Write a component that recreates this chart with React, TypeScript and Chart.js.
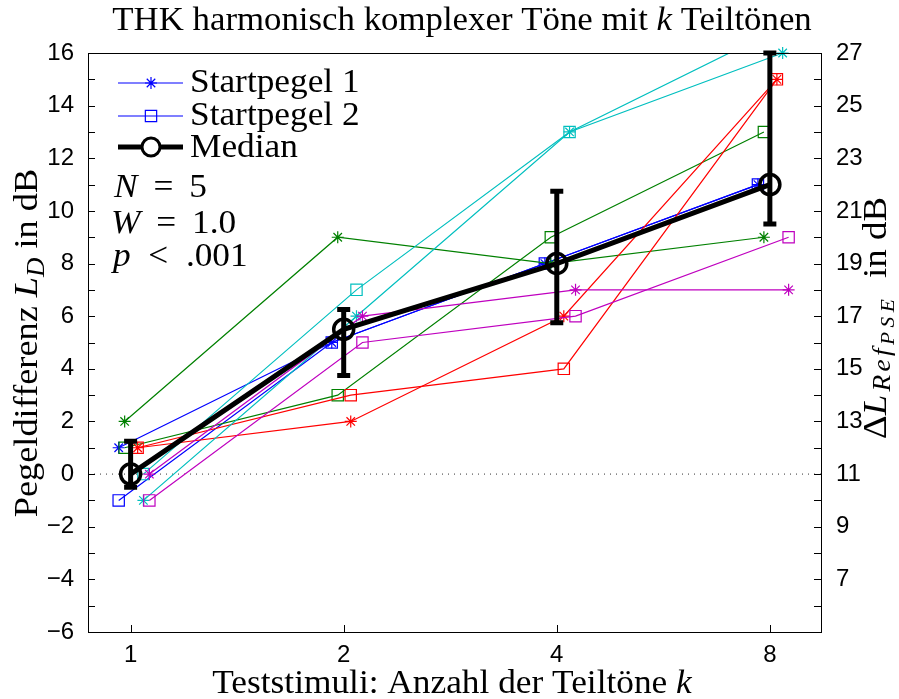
import React, { useEffect, useRef } from 'react';
import { Chart, registerables } from 'chart.js';
import { drawPoint } from 'chart.js/helpers';

Chart.register(...registerables);

// Test stimuli: number of partials k
const categories = ['1', '2', '4', '8'];
const categoryPositions = [1, 2, 3, 4];

// Individual subjects, start level 1 (asterisk) and start level 2 (square), in dB
const blueStart1 = [1, 5, 8, 11];
const blueStart2 = [-1, 5, 8, 11];
const greenStart1 = [2, 9, 8, 9];
const greenStart2 = [1, 3, 9, 13];
const redStart1 = [1, 2, 6, 15];
const redStart2 = [1, 3, 4, 15];
const cyanStart1 = [-1, 6, 13, 16];
const cyanStart2 = [0, 7, 13, 17];
const magentaStart1 = [0, 6, 7, 7];
const magentaStart2 = [-1, 5, 6, 9];

// Median over subjects with its spread
const medianValues = [0, 5.5, 8, 11];
const medianLower = [-0.5, 3.75, 5.75, 9.5];
const medianUpper = [1.25, 6.25, 10.75, 16];

// Axis labelling
const leftTickLabels = [-6, -4, -2, 0, 2, 4, 6, 8, 10, 12, 14, 16];
const rightTickLabels = [7, 9, 11, 13, 15, 17, 19, 21, 23, 25, 27];
const rightAxisShift = 11; // right axis = left axis + 11 dB

// Statistics box
const statN = '5';
const statW = '1.0';
const statP = '.001';

const Y_MIN = -6;
const Y_MAX = 16;

// Horizontal spread of the subjects around each category
const subjectOffsets = [-0.056, -0.028, 0.033, 0.06, 0.088];

const subjects = [
  { color: '#0000ff', start1: blueStart1, start2: blueStart2 },
  { color: '#008000', start1: greenStart1, start2: greenStart2 },
  { color: '#ff0000', start1: redStart1, start2: redStart2 },
  { color: '#00bfbf', start1: cyanStart1, start2: cyanStart2 },
  { color: '#bf00bf', start1: magentaStart1, start2: magentaStart2 },
];

const SERIF = '"Liberation Serif", "Times New Roman", serif';
const SANS = '"Liberation Sans", Arial, Helvetica, sans-serif';
const TEXT_SIZE = 33;
const TEXT_STRETCH = 1.07;

type Run = { text: string; italic?: boolean; level?: 0 | 1 | 2; gap?: number; dy?: number };

function runFont(r: Run, size: number) {
  const s = size * (r.level === 2 ? 0.58 : r.level === 1 ? 0.74 : 1);
  return `${r.italic ? 'italic ' : ''}${s}px ${SERIF}`;
}

function runShift(r: Run, size: number) {
  if (r.dy !== undefined) return r.dy;
  return r.level === 2 ? size * 0.36 : r.level === 1 ? size * 0.2 : 0;
}

// Draws a sequence of text runs (roman / italic / sub- and sub-subscripts)
function drawRuns(
  ctx: CanvasRenderingContext2D,
  runs: Run[],
  x: number,
  y: number,
  size: number,
  align: 'left' | 'center',
  stretch = TEXT_STRETCH
) {
  ctx.save();
  ctx.textBaseline = 'alphabetic';
  ctx.textAlign = 'left';
  ctx.fillStyle = '#000';
  // each run is split into characters so that a per-run gap can be applied
  const pieces: { ch: string; font: string; w: number; shift: number }[] = [];
  runs.forEach((r) => {
    const font = runFont(r, size);
    ctx.font = font;
    const chars = r.gap ? Array.from(r.text) : [r.text];
    chars.forEach((ch) => {
      pieces.push({ ch, font, w: (ctx.measureText(ch).width + (r.gap || 0)) * stretch, shift: runShift(r, size) });
    });
  });
  const total = pieces.reduce((a, p) => a + p.w, 0);
  let cx = align === 'center' ? x - total / 2 : x;
  pieces.forEach((p) => {
    ctx.save();
    ctx.font = p.font;
    ctx.translate(cx, y + p.shift);
    ctx.scale(stretch, 1);
    ctx.fillText(p.ch, 0, 0);
    ctx.restore();
    cx += p.w;
  });
  ctx.restore();
}

function fmtTick(v: number) {
  return v < 0 ? '\u2212' + Math.abs(v) : String(v);
}

function seriesPoints(values: number[], offset: number) {
  return values.map((v, i) => ({ x: categoryPositions[i] + offset, y: v }));
}

const decorations = {
  id: 'decorations',
  beforeDatasetsDraw(chart: any) {
    const { ctx, chartArea: a, scales } = chart;
    const y0 = scales.y.getPixelForValue(0);
    ctx.save();
    ctx.strokeStyle = '#333';
    ctx.lineWidth = 1;
    ctx.setLineDash([1, 5]);
    ctx.beginPath();
    ctx.moveTo(a.left, y0);
    ctx.lineTo(a.right, y0);
    ctx.stroke();
    ctx.restore();
  },
  afterDatasetsDraw(chart: any) {
    const { ctx, chartArea: a, scales } = chart;
    const xs = scales.x;
    const ys = scales.y;
    const ys2 = scales.y2;

    // median spread
    ctx.save();
    ctx.strokeStyle = '#000';
    ctx.lineWidth = 5;
    ctx.lineCap = 'butt';
    categoryPositions.forEach((p, i) => {
      const x = xs.getPixelForValue(p);
      const lo = ys.getPixelForValue(medianLower[i]);
      const hi = ys.getPixelForValue(medianUpper[i]);
      ctx.beginPath();
      ctx.moveTo(x, lo);
      ctx.lineTo(x, hi);
      ctx.moveTo(x - 6.5, lo);
      ctx.lineTo(x + 6.5, lo);
      ctx.moveTo(x - 6.5, hi);
      ctx.lineTo(x + 6.5, hi);
      ctx.stroke();
    });
    ctx.restore();

    // frame and inward ticks
    ctx.save();
    ctx.strokeStyle = '#000';
    ctx.lineWidth = 1;
    ctx.strokeRect(a.left + 0.5, a.top + 0.5, a.right - a.left, a.bottom - a.top);
    ctx.beginPath();
    ys.ticks.forEach((t: any) => {
      const y = Math.round(ys.getPixelForValue(t.value)) + 0.5;
      ctx.moveTo(a.left, y);
      ctx.lineTo(a.left + 7, y);
    });
    ys2.ticks.forEach((t: any) => {
      const y = Math.round(ys2.getPixelForValue(t.value)) + 0.5;
      ctx.moveTo(a.right, y);
      ctx.lineTo(a.right - 7, y);
    });
    categoryPositions.forEach((p) => {
      const x = Math.round(xs.getPixelForValue(p)) + 0.5;
      ctx.moveTo(x, a.bottom);
      ctx.lineTo(x, a.bottom - 7);
    });
    ctx.stroke();
    ctx.restore();

    // legend
    const lx0 = 118;
    const lx1 = 183;
    const mx = 151;
    const rows = [83, 116, 147];
    ctx.save();
    ctx.fillStyle = 'rgba(0,0,0,0)';
    ctx.strokeStyle = '#0000ff';
    ctx.lineWidth = 1.2;
    [0, 1].forEach((k) => {
      ctx.beginPath();
      ctx.moveTo(lx0, rows[k]);
      ctx.lineTo(lx1, rows[k]);
      ctx.stroke();
      drawPoint(ctx, { pointStyle: k === 0 ? 'star' : 'rect', radius: k === 0 ? 6 : 8, rotation: 0, borderWidth: 1.2 } as any, mx, rows[k]);
    });
    ctx.strokeStyle = '#000';
    ctx.lineWidth = 5;
    ctx.beginPath();
    ctx.moveTo(lx0, rows[2]);
    ctx.lineTo(mx - 9, rows[2]);
    ctx.moveTo(mx + 9, rows[2]);
    ctx.lineTo(lx1, rows[2]);
    ctx.stroke();
    ctx.lineWidth = 3;
    ctx.beginPath();
    ctx.arc(mx, rows[2], 9, 0, Math.PI * 2);
    ctx.stroke();
    ctx.restore();

    drawRuns(ctx, [{ text: 'Startpegel 1' }], 190, 92, TEXT_SIZE, 'left');
    drawRuns(ctx, [{ text: 'Startpegel 2' }], 190, 125, TEXT_SIZE, 'left');
    drawRuns(ctx, [{ text: 'Median' }], 190, 157, TEXT_SIZE, 'left');

    // statistics
    drawRuns(ctx, [{ text: 'N', italic: true }, { text: ' \u2009=\u2009 ' + statN }], 114, 197, TEXT_SIZE, 'left');
    drawRuns(ctx, [{ text: 'W', italic: true }, { text: ' \u2009=\u2009 ' + statW }], 111, 233, TEXT_SIZE, 'left');
    drawRuns(ctx, [{ text: 'p', italic: true }, { text: '  <  ' + statP }], 113, 266, TEXT_SIZE, 'left');
  },
  afterDraw(chart: any) {
    const { ctx } = chart;
    // title
    drawRuns(
      ctx,
      [
        { text: 'THK harmonisch komplexer T\u00f6ne mit ' },
        { text: 'k', italic: true },
        { text: ' Teilt\u00f6nen' },
      ],
      462,
      30,
      TEXT_SIZE,
      'center',
      1.055
    );
    // x axis title
    drawRuns(
      ctx,
      [{ text: 'Teststimuli: Anzahl der Teilt\u00f6ne ' }, { text: 'k', italic: true }],
      452,
      693,
      TEXT_SIZE,
      'center'
    );
    // left axis title
    ctx.save();
    ctx.translate(37, 343);
    ctx.rotate(-Math.PI / 2);
    drawRuns(
      ctx,
      [
        { text: 'Pegeldifferenz ' },
        { text: 'L', italic: true },
        { text: 'D', italic: true, level: 1 },
        { text: ' in dB' },
      ],
      0,
      0,
      TEXT_SIZE,
      'center',
      1.1
    );
    ctx.restore();
    // right axis title
    ctx.save();
    ctx.translate(886, 318);
    ctx.rotate(-Math.PI / 2);
    drawRuns(
      ctx,
      [
        { text: '\u0394' },
        { text: 'L', italic: true, gap: 3 },
        { text: 'Ref', italic: true, level: 1, gap: 3, dy: 4 },
        { text: 'PSE', italic: true, level: 2, gap: 4, dy: 8 },
        { text: '\u2009 in dB' },
      ],
      0,
      0,
      TEXT_SIZE,
      'center',
      1.12
    );
    ctx.restore();
  },
};

function buildDatasets() {
  const sets: any[] = [];
  sets.push({
    label: 'Median',
    data: seriesPoints(medianValues, 0),
    borderColor: '#000',
    backgroundColor: 'rgba(0,0,0,0)',
    borderWidth: 5,
    pointStyle: 'circle',
    pointRadius: 10,
    pointBorderWidth: 3.5,
    pointBorderColor: '#000',
    pointBackgroundColor: 'rgba(0,0,0,0)',
    order: 0,
    clip: 12,
  });
  subjects.forEach((s, i) => {
    [s.start1, s.start2].forEach((vals, k) => {
      const exceeds = Math.max(...vals) > Y_MAX || Math.min(...vals) < Y_MIN;
      sets.push({
        label: `S${i + 1}-${k + 1}`,
        data: seriesPoints(vals, subjectOffsets[i]),
        borderColor: s.color,
        backgroundColor: 'rgba(0,0,0,0)',
        borderWidth: 1.2,
        pointStyle: k === 0 ? 'star' : 'rect',
        pointRadius: k === 0 ? 6 : 8,
        pointBorderWidth: 1.2,
        pointBorderColor: s.color,
        pointBackgroundColor: 'rgba(0,0,0,0)',
        order: 20 - i * 2 - k,
        clip: exceeds ? 0 : 12,
      });
    });
  });
  return sets;
}

export default function App() {
  const canvasRef = useRef<HTMLCanvasElement>(null);

  useEffect(() => {
    if (!canvasRef.current) return;
    const chart = new Chart(canvasRef.current, {
      type: 'line',
      data: { datasets: buildDatasets() },
      options: {
        responsive: false,
        animation: false,
        devicePixelRatio: 1,
        events: [],
        layout: { padding: { top: 53, left: 0, right: 0, bottom: 0 } },
        plugins: {
          legend: { display: false },
          tooltip: { enabled: false },
          title: { display: false },
        },
        scales: {
          x: {
            type: 'linear',
            min: 0.8,
            max: 4.24,
            grid: { display: false },
            border: { display: false },
            afterBuildTicks: (scale: any) => {
              scale.ticks = categoryPositions.map((v) => ({ value: v }));
            },
            afterFit: (scale: any) => {
              scale.height = 67;
            },
            ticks: {
              autoSkip: false,
              maxRotation: 0,
              padding: 1,
              color: '#000',
              font: { family: SANS, size: 24 },
              callback: (v: any) => {
                const idx = categoryPositions.indexOf(Number(v));
                return idx >= 0 ? categories[idx] : '';
              },
            },
          },
          y: {
            type: 'linear',
            position: 'left',
            min: Y_MIN,
            max: Y_MAX,
            grid: { display: false },
            border: { display: false },
            afterFit: (scale: any) => {
              scale.width = 88;
            },
            ticks: {
              stepSize: 1,
              autoSkip: false,
              padding: 6,
              color: '#000',
              font: { family: SANS, size: 24 },
              callback: (v: any) => (leftTickLabels.includes(Number(v)) ? fmtTick(Number(v)) : ''),
            },
          },
          y2: {
            type: 'linear',
            position: 'right',
            min: Y_MIN + rightAxisShift,
            max: Y_MAX + rightAxisShift,
            grid: { display: false },
            border: { display: false },
            afterFit: (scale: any) => {
              scale.width = 78;
            },
            ticks: {
              stepSize: 1,
              autoSkip: false,
              padding: 7,
              color: '#000',
              font: { family: SANS, size: 24 },
              callback: (v: any) => (rightTickLabels.includes(Number(v)) ? fmtTick(Number(v)) : ''),
            },
          },
        },
      } as any,
      plugins: [decorations],
    });
    return () => chart.destroy();
  }, []);

  return (
    <div style={{ position: 'fixed', left: 0, top: 0, width: 899, height: 699, background: '#fff' }}>
      <canvas ref={canvasRef} width={899} height={699} style={{ display: 'block' }} />
    </div>
  );
}
